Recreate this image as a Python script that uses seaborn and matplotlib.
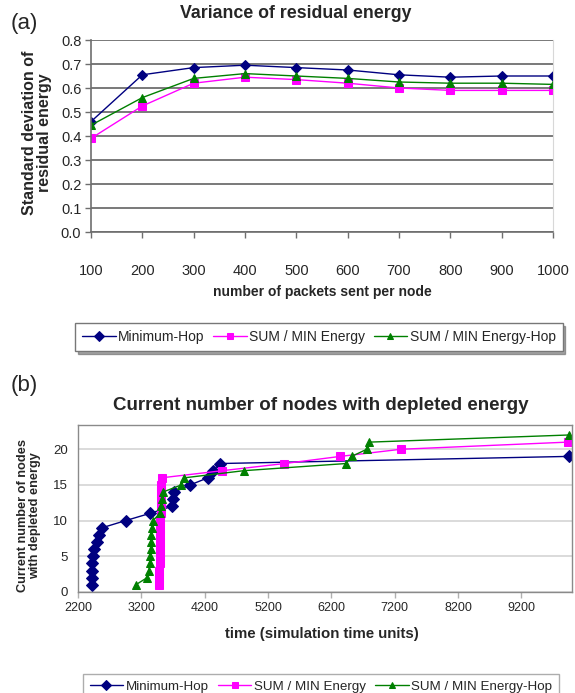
import matplotlib
matplotlib.use("Agg")
import matplotlib.pyplot as plt
import pandas as pd
import seaborn as sns

# ---- panel (a): spread of residual energy vs. traffic load ----
packets = [100, 200, 300, 400, 500, 600, 700, 800, 900, 1000]
min_hop_std = [0.46, 0.655, 0.685, 0.695, 0.685, 0.675, 0.655, 0.645, 0.65, 0.65]
sum_min_energy_std = [0.39, 0.525, 0.62, 0.645, 0.635, 0.62, 0.60, 0.59, 0.59, 0.59]
sum_min_energy_hop_std = [0.445, 0.56, 0.64, 0.66, 0.65, 0.64, 0.625, 0.62, 0.62, 0.615]

# ---- panel (b): depleted nodes over simulation time ----
min_hop_time = [2420, 2420, 2420, 2425, 2430, 2450, 2500, 2530, 2580, 2950,
                3330, 3680, 3700, 3720, 3970, 4250, 4330, 4440, 9950]
min_hop_nodes = list(range(1, 20))

sum_min_energy_time = [3480, 3482, 3485, 3487, 3490, 3492, 3495, 3497, 3500,
                       3502, 3505, 3507, 3510, 3512, 3515, 3520,
                       4480, 5460, 6340, 7300, 9930]
sum_min_energy_nodes = list(range(1, 22))

sum_min_energy_hop_time = [3110, 3290, 3320, 3330, 3340, 3345, 3350, 3360, 3370,
                           3385, 3490, 3505, 3520, 3540, 3830, 3880, 4820,
                           6430, 6520, 6760, 6800, 9950]
sum_min_energy_hop_nodes = list(range(1, 23))

series = ["Minimum-Hop", "SUM / MIN Energy", "SUM / MIN Energy-Hop"]
colors = {series[0]: "#000080", series[1]: "#FF00FF", series[2]: "#008000"}
markers = {series[0]: "D", series[1]: "s", series[2]: "^"}

df_a = pd.concat([
    pd.DataFrame({"packets": packets, "std": vals, "series": name})
    for name, vals in zip(series, [min_hop_std, sum_min_energy_std, sum_min_energy_hop_std])
], ignore_index=True)

df_b = pd.concat([
    pd.DataFrame({"time": t, "nodes": n, "series": name})
    for name, t, n in zip(series,
                          [min_hop_time, sum_min_energy_time, sum_min_energy_hop_time],
                          [min_hop_nodes, sum_min_energy_nodes, sum_min_energy_hop_nodes])
], ignore_index=True)

sns.set_style("white")
plt.rcParams["font.family"] = ["Liberation Sans", "DejaVu Sans"]

W, H = 575, 693
fig = plt.figure(figsize=(W / 100, H / 100), dpi=100)


def box(l, t, r, b):
    return [l / W, 1 - b / H, (r - l) / W, (b - t) / H]


def fx(x):
    return x / W


def fy(y):
    return 1 - y / H


def style_lines(lines, ms):
    for line in lines:
        c = line.get_color()
        line.set_markeredgecolor(c)
        line.set_markerfacecolor(c)
        line.set_markersize(ms)
        line.set_linewidth(1.0)


# ---------- (a) ----------
ax1 = fig.add_axes(box(91, 40, 553, 232))
sns.lineplot(data=df_a, x="packets", y="std", hue="series", style="series",
             palette=colors, markers=markers, dashes=False, ax=ax1,
             estimator=None, sort=False)
style_lines(ax1.lines, 5.5)
h1, l1 = ax1.get_legend_handles_labels()
ax1.get_legend().remove()
style_lines(h1, 5)

ax1.set_xlim(100, 1000)
ax1.set_ylim(0, 0.8)
ax1.set_xticks(packets)
ax1.set_yticks([i / 10 for i in range(9)])
ax1.set_yticklabels([f"{i / 10:.1f}" for i in range(9)])
ax1.yaxis.grid(True, color="#6e6e6e", lw=1.3)
ax1.set_axisbelow(True)
ax1.spines["top"].set_visible(False)
ax1.spines["right"].set_color("#d8d8d8")
for s in ["left", "bottom"]:
    ax1.spines[s].set_color("#6e6e6e")
    ax1.spines[s].set_linewidth(1.2)
ax1.tick_params(axis="x", length=4, width=1, color="#6e6e6e", pad=19, labelsize=10.5,
                direction="out", bottom=True)
ax1.tick_params(axis="y", length=4, width=1, color="#6e6e6e", pad=3, labelsize=10.5,
                direction="out", left=True)
ax1.set_xlabel("")
ax1.set_ylabel("")

fig.text(fx(296), fy(14), "Variance of residual energy", ha="center", va="center",
         fontsize=12.8, fontweight="bold")
fig.text(fx(24), fy(24), "(a)", ha="center", va="center", fontsize=16)
fig.text(fx(37), fy(133), "Standard deviation of\nresidual energy", ha="center",
         va="center", rotation=90, fontsize=11.5, fontweight="bold", linespacing=1.0)
fig.text(fx(322), fy(292), "number of packets sent per node", ha="center", va="center",
         fontsize=10, fontweight="bold")

leg1 = fig.legend(h1, l1, loc="center", bbox_to_anchor=(fx(319), fy(337)), ncol=3,
                  fontsize=10, frameon=True, fancybox=False, shadow=True,
                  handlelength=2.4, handletextpad=0.2, columnspacing=0.6,
                  borderpad=0.5, edgecolor="#777777")
leg1.get_frame().set_linewidth(1.0)

# ---------- (b) ----------
ax2 = fig.add_axes(box(78, 425, 572, 592))
sns.lineplot(data=df_b, x="time", y="nodes", hue="series", style="series",
             palette=colors, markers=markers, dashes=False, ax=ax2,
             estimator=None, sort=False)
style_lines(ax2.lines, 6)
h2, l2 = ax2.get_legend_handles_labels()
ax2.get_legend().remove()
style_lines(h2, 5)

ax2.set_xlim(2200, 10000)
ax2.set_ylim(0, 23.4)
ax2.set_xticks(list(range(2200, 10000, 1000)))
ax2.set_yticks([0, 5, 10, 15, 20])
ax2.yaxis.grid(True, color="#d4d4d4", lw=1.2)
ax2.set_axisbelow(True)
for s in ax2.spines.values():
    s.set_color("#8a8a8a")
    s.set_linewidth(1.0)
ax2.tick_params(axis="x", length=4, width=1, color="#b0b0b0", pad=3, labelsize=9,
                direction="out", bottom=True)
ax2.tick_params(axis="y", length=0, pad=7, labelsize=9.5)
ax2.set_xlabel("")
ax2.set_ylabel("")

fig.text(fx(24), fy(385), "(b)", ha="center", va="center", fontsize=16)
fig.text(fx(321), fy(405), "Current number of nodes with depleted energy", ha="center",
         va="center", fontsize=13.5, fontweight="bold")
fig.text(fx(29), fy(516), "Current number of nodes\nwith depleted energy", ha="center",
         va="center", rotation=90, fontsize=9.2, fontweight="bold", linespacing=1.0)
fig.text(fx(322), fy(634), "time (simulation time units)", ha="center", va="center",
         fontsize=10.8, fontweight="bold")

leg2 = fig.legend(h2, l2, loc="upper center", bbox_to_anchor=(fx(321), fy(667)), ncol=3,
                  fontsize=9.6, frameon=True, fancybox=False, shadow=False,
                  handlelength=2.5, handletextpad=0.2, columnspacing=0.7,
                  borderpad=0.5, edgecolor="#999999")
leg2.get_frame().set_linewidth(1.0)

fig.savefig("out.png", dpi=100)
